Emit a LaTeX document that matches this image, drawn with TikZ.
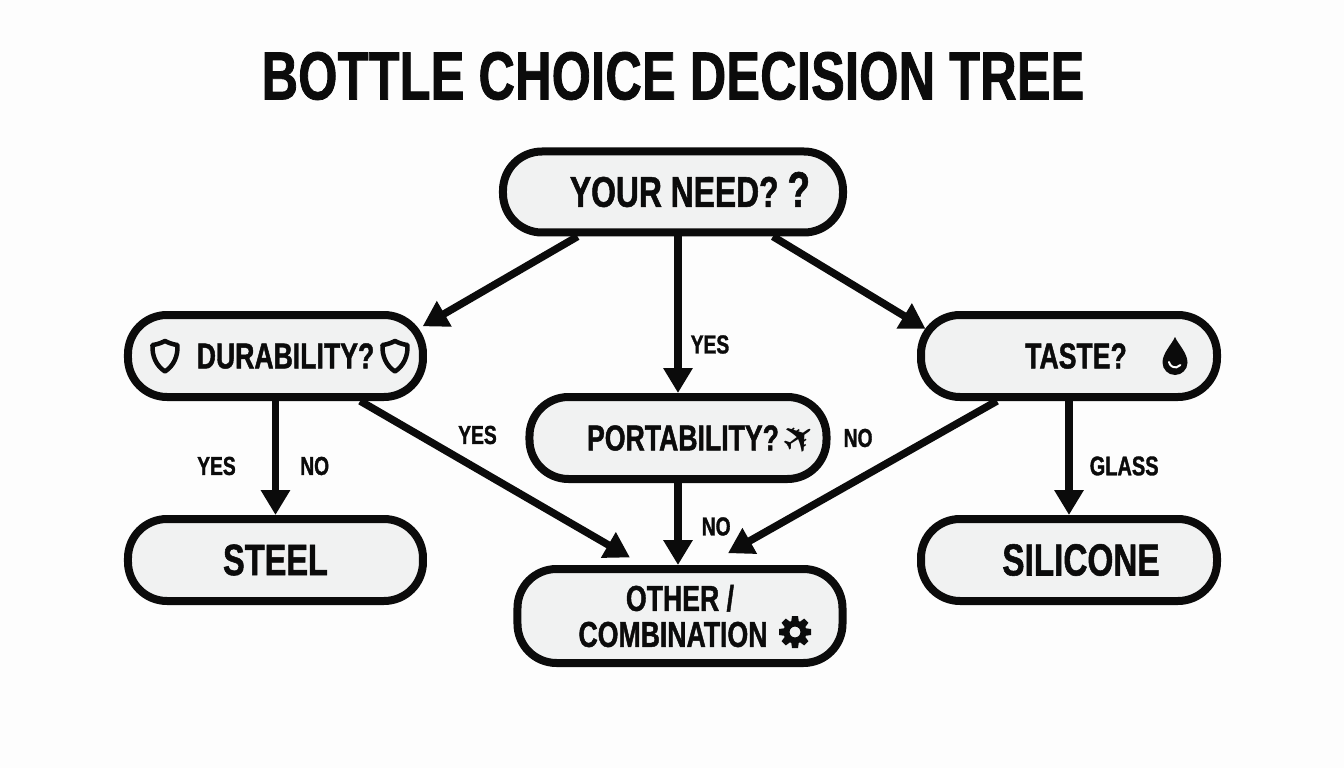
\documentclass[tikz,border=0pt]{standalone}
\usepackage{fontspec}
\usepackage{tikz}
\usetikzlibrary{arrows.meta,positioning}
\setmainfont{Liberation Sans}[FakeStretch=0.74,FakeBold=1.2]
\newfontfamily\titlefont{Liberation Sans}[FakeStretch=0.74,FakeBold=1.2,LetterSpace=0.4]
\newfontfamily\iconfont{DejaVu Sans}
\definecolor{pillgray}{HTML}{F1F2F2}
\definecolor{inkblack}{HTML}{0B0B0B}
\tikzset{
  pill/.style={draw=inkblack,fill=pillgray,line width=8pt,rectangle,rounded corners=39pt,
    inner sep=0pt,align=center,text=inkblack,font=\fontsize{36}{36}\selectfont\bfseries},
  lab/.style={inner sep=0pt,text=inkblack,font=\fontsize{26}{28}\selectfont\bfseries},
  arrow/.style={draw=inkblack,line width=7.5pt,-{Triangle[length=25pt,width=28pt]}},
  shieldicon/.pic={
    \draw[inkblack,line width=4.5pt,line join=round] (0,15) .. controls (5,12.5) and (8.5,11.5) .. (12.5,11)
      .. controls (13,0) and (9,-9.5) .. (0,-15.5) .. controls (-9,-9.5) and (-13,0) .. (-12.5,11)
      .. controls (-8.5,11.5) and (-5,12.5) .. (0,15) -- cycle;
  },
  dropicon/.pic={
    \fill[inkblack] (0,19) .. controls (3,12) and (12.5,3) .. (12.5,-6.5)
      arc[start angle=0,end angle=-180,radius=12.5]
      .. controls (-12.5,3) and (-3,12) .. (0,19) -- cycle;
    \draw[white,line width=2pt,line cap=round] (-6,-6) arc[start angle=190,end angle=320,radius=6.5];
  },
  gearicon/.pic={
    \foreach \a in {0,45,...,315} {
      \fill[inkblack,rotate=\a] (-4,9) -- (-3,16) -- (3,16) -- (4,9) -- cycle;
    }
    \draw[inkblack,line width=6pt] (0,0) circle[radius=8.5];
  },
}
\begin{document}
\begin{tikzpicture}[x=1pt,y=1pt,node distance=100pt]
      \fill[white!99.3!black] (-673,192) rectangle (671,-576);
      \useasboundingbox (-673,192) rectangle (671,-576);

      \node[pill,minimum width=340pt,minimum height=81pt,font=\fontsize{43}{43}\selectfont\bfseries] (need) {\hspace{34pt}YOUR NEED? \smash{\fontsize{50}{50}\selectfont ?}};
      \node[above of=need,yshift=16pt,inner sep=0pt,text=inkblack,font=\titlefont\fontsize{68}{70}\selectfont\bfseries] (title) {BOTTLE CHOICE DECISION TREE};
      \node[pill,below of=need,xshift=-397.5pt,yshift=-64pt,minimum width=295pt,minimum height=82pt] (durability) {\hspace{20pt}DURABILITY?};
      \node[pill,below of=need,xshift=396pt,yshift=-64pt,minimum width=296pt,minimum height=82pt] (taste) {\hspace{14pt}TASTE?};
      \node[pill,below of=need,xshift=5pt,yshift=-146pt,minimum width=297pt,minimum height=82pt] (portability) {\hspace{10pt}PORTABILITY?};
      \node[pill,below of=durability,yshift=-104pt,minimum width=295pt,minimum height=82pt,font=\fontsize{44}{44}\selectfont\bfseries] (steel) {STEEL};
      \node[pill,below of=taste,yshift=-104pt,minimum width=296pt,minimum height=82pt,font=\fontsize{45}{45}\selectfont\bfseries] (silicone) {\hspace{24pt}SILICONE};
      \node[pill,below of=portability,xshift=2pt,yshift=-78pt,minimum width=325pt,minimum height=94pt,font=\fontsize{36}{36}\selectfont\bfseries] (other) {OTHER /\\\hspace{-14pt}COMBINATION\hspace{14pt}};

      \pic at ([xshift=-110.5pt]durability.center) {shieldicon};
      \pic at ([xshift=119.5pt]durability.center) {shieldicon};
      \pic at ([xshift=106pt]taste.center) {dropicon};
      \node[inner sep=0pt,rotate=35,text=inkblack,font=\iconfont\fontsize{40}{40}\selectfont] (plane) at ([xshift=121pt]portability.center) {✈};
      \pic at ([xshift=115pt,yshift=-16pt]other.center) {gearicon};

      \draw[arrow,shorten >=-5pt] (need.205) -- (durability.12);
      \draw[arrow,shorten >=-10pt] (need.-24.4) -- (taste.168);
      \draw[arrow] (portability |- need.south) -- node[pos=.69,right=9pt,lab] {YES} (portability.north);
      \draw[arrow] (durability.south) -- node[pos=.57,left=36pt,lab] {YES} node[pos=.57,right=21pt,lab] {NO} (durability.south |- steel.north);
      \draw[arrow,shorten >=15pt] (durability.-28.5) -- (other.126);
      \draw[arrow] (portability.south) -- node[pos=.53,right=20pt,lab] {NO} (portability.south |- other.north);
      \draw[arrow,shorten >=24pt] (taste.212) -- (other.62);
      \draw[arrow] (taste.south) -- node[pos=.57,right=17pt,lab,font=\fontsize{27}{28}\selectfont\bfseries] {GLASS} (taste.south |- silicone.north);
      \node[lab,right=13pt of portability] (portno) {NO};
      \node[lab] (durayes) at ([xshift=202pt,yshift=-79pt]durability.center) {YES};
\end{tikzpicture}
\end{document}
